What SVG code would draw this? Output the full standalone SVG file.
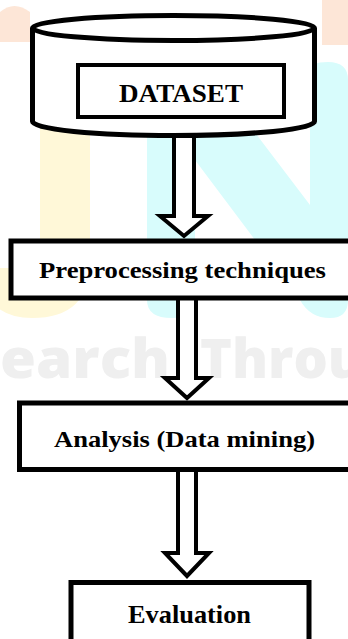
<svg xmlns="http://www.w3.org/2000/svg" width="348" height="639" viewBox="0 0 348 639">
  <style>
    .box { fill: #ffffff; stroke: #000000; stroke-width: 5; }
    .inner { fill: #ffffff; stroke: #000000; stroke-width: 4; }
    .arrow { fill: #ffffff; stroke: #000000; stroke-width: 4; stroke-linejoin: miter; }
    .label { font-family: "Liberation Serif", "Times New Roman", serif; font-weight: bold; fill: #000000; text-anchor: middle; }
    .wm { font-family: "Open Sans", "Noto Sans", sans-serif; font-weight: 800; fill: #efefef; }
  </style>

  <rect width="348" height="639" fill="#ffffff"/>

  <!-- faint background watermark -->
  <g id="watermark">
    <path d="M0,12 Q14,0 30,12 V42 H0 Z" fill="#fde6d7"/>
    <path d="M322,0 H348 V45 H322 Z" fill="#fde6d7"/>
    <path d="M40,40 H90 V262 Q90,318 32,318 Q4,318 -10,300 V268 H40 Z" fill="#fff8d8"/>
    <path d="M147,60 H200 L310,205 V70 Q310,62 328,62 Q348,62 348,80 V300 Q348,318 330,318 Q310,318 300,300 L195,160 V300 Q195,318 172,318 Q147,318 147,300 Z" fill="#d8fcfc"/>
    <text class="wm" x="-30" y="378" font-size="54" textLength="200" lengthAdjust="spacingAndGlyphs">search</text>
    <text class="wm" x="200" y="378" font-size="54">Through</text>
  </g>

  <!-- connectors: hollow block arrows -->
  <g id="connectors">
    <polygon class="arrow" points="174,132 174,216 160,216 184,236 208,216 194,216 194,132"/>
    <polygon class="arrow" points="178,298 178,378 165,378 187,398 209,378 196,378 196,298"/>
    <polygon class="arrow" points="178,470 178,553 165,553 187,576 209,553 196,553 196,470"/>
  </g>

  <g id="dataset">
    <path class="box" d="M32.5,28 V121.5 A141,14 0 0 0 314.5,121.5 V28"/>
    <ellipse class="box" cx="173.5" cy="28" rx="141" ry="12.5"/>
    <rect class="inner" x="78" y="65" width="206" height="52"/>
    <text class="label" x="181" y="102" font-size="25" textLength="124" lengthAdjust="spacingAndGlyphs">DATASET</text>
  </g>

  <g id="preprocessing">
    <rect class="box" x="11" y="241" width="345" height="57"/>
    <text class="label" x="182.5" y="278" font-size="23" textLength="287" lengthAdjust="spacingAndGlyphs">Preprocessing techniques</text>
  </g>

  <g id="analysis">
    <rect class="box" x="19.5" y="403" width="340" height="66.5"/>
    <text class="label" x="184.5" y="447" font-size="24" textLength="261" lengthAdjust="spacingAndGlyphs">Analysis (Data mining)</text>
  </g>

  <g id="evaluation">
    <rect class="box" x="71" y="582.5" width="238" height="70"/>
    <text class="label" x="189.5" y="623" font-size="25.5" textLength="123" lengthAdjust="spacingAndGlyphs">Evaluation</text>
  </g>
</svg>
